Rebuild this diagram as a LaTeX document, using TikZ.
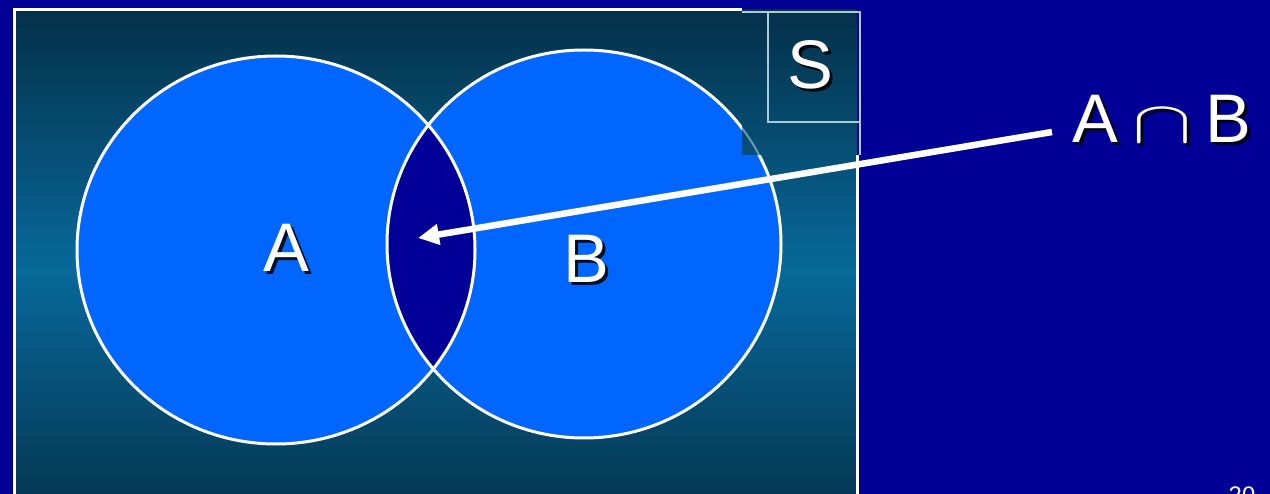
\documentclass[tikz,border=0pt]{standalone}
\usepackage{graphicx}
\usepackage{fontspec}
\setmainfont{Liberation Sans}
\usetikzlibrary{arrows.meta}
\definecolor{bgblue}{HTML}{000096}
\definecolor{tealtop}{HTML}{05304A}
\definecolor{tealmid}{HTML}{07699A}
\definecolor{setblue}{HTML}{0066FF}
\definecolor{lensblue}{HTML}{000099}
\definecolor{boxline}{HTML}{A8CCDC}
\newcommand{\bigcapsym}{\scalebox{9}[6]{\fontsize{10}{12}\selectfont$\cap$}}
\newcommand{\capgap}{\hspace{14bp}}
\begin{document}
\begin{tikzpicture}[x=1bp,y=-1bp,
  bigfont/.style={font=\fontsize{69}{80}\selectfont},
  lbl/.style={bigfont, text=white, inner sep=0pt, anchor=base},
  shlbl/.style={bigfont, text=black, opacity=0.85, inner sep=0pt, anchor=base},
  setfill/.style={fill=setblue},
  setedge/.style={draw=white, line width=3bp},
  frame/.style={draw=white, line width=3bp},
  boxedge/.style={draw=boxline, line width=2.5bp},
  pointer/.style={draw=white, line width=6.5bp, -{Triangle[length=21bp,width=20bp]}},
  panel/.style={top color=tealtop, bottom color=tealtop, middle color=tealmid}]
\useasboundingbox (0,0) rectangle (1270,494);
\fill[bgblue] (0,0) rectangle (1270,494);
% universe panel
\path[panel] (14,10) rectangle (857,530);
% sets
\fill[setfill] (276,250) ellipse [x radius=199, y radius=194];
\fill[setfill] (584,244) ellipse [x radius=197, y radius=194];
\begin{scope}
  \clip (276,250) ellipse [x radius=199, y radius=194];
  \fill[lensblue] (584,244) ellipse [x radius=197, y radius=194];
\end{scope}
\draw[setedge] (276,250) ellipse [x radius=199, y radius=194];
\draw[setedge] (584,244) ellipse [x radius=197, y radius=194];
% pasted S patch over the corner
\begin{scope}
  \clip (742,12) rectangle (857,155);
  \path[panel] (14,10) rectangle (857,530);
  \draw[draw=boxline, opacity=0.6, line width=2bp] (584,244) ellipse [x radius=197, y radius=194];
\end{scope}
% frame
\draw[frame] (742,10) -- (14,10) -- (14,500);
\draw[frame] (857,500) -- (857,155);
\draw[boxedge] (742,12) -- (860,12) -- (860,155);
\draw[boxedge] (768,12) -- (768,122) -- (860,122);
% labels
\node[shlbl] (Ash) at (289,275) {A};
\node[lbl] (A) at (286,272) {A};
\node[shlbl] (Bsh) at (589,286) {B};
\node[lbl] (B) at (586,283) {B};
\node[shlbl] (Ssh) at (813,92) {S};
\node[lbl] (S) at (810,89) {S};
\node[shlbl, anchor=base west] (ABsh) at (1075,146) {A\capgap\bigcapsym\capgap B};
\node[lbl, anchor=base west] (AB) at (1072,143) {A\capgap\bigcapsym\capgap B};
\node[text=white, font=\fontsize{24}{28}\selectfont, inner sep=0pt, anchor=north] (pg) at (1242,487) {20};
% pointer
\coordinate (arrS) at (1052,132);
\coordinate (lens) at (418,238);
\draw[pointer] (arrS) -- (lens);
\end{tikzpicture}
\end{document}
